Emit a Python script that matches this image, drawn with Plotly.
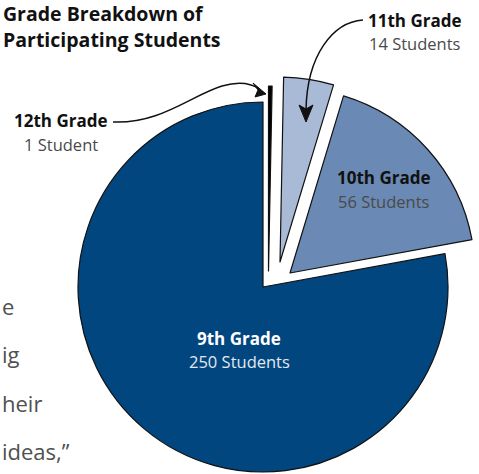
import plotly.graph_objects as go

# ---- data ----
grades = ["12th Grade", "11th Grade", "10th Grade", "9th Grade"]
students = [1, 14, 56, 250]
count_text = ["1 Student", "14 Students", "56 Students", "250 Students"]
title_lines = ["Grade Breakdown of", "Participating Students"]
body_fragments = ["e", "ig", "heir", "ideas,\u201d"]

# ---- style ----
W, H = 479, 474
FONT = "Open Sans"
slice_colors = ["#000000", "#a9bad7", "#6a89b4", "#02467f"]
R = 185
# vertex (pie centre) of each slice in pixels, from top-left
centres = [(268.5, 271), (280, 262), (290, 273), (263, 287)]


def px(x):
    return x / W


def py(y):
    return 1 - y / H


fig = go.Figure()
for i, (cx, cy) in enumerate(centres):
    colors = ["rgba(0,0,0,0)"] * len(students)
    widths = [0] * len(students)
    colors[i] = slice_colors[i]
    widths[i] = 1.2
    fig.add_trace(go.Pie(
        labels=grades,
        values=students,
        sort=False,
        direction="clockwise",
        rotation=0,
        textinfo="none",
        hoverinfo="label+value",
        showlegend=False,
        marker=dict(colors=colors, line=dict(color="#111111", width=widths)),
        domain=dict(x=[(cx - R) / W, (cx + R) / W],
                    y=[(H - cy - R) / H, (H - cy + R) / H]),
    ))

annotations = []


def add_text(text, x, y, size, color, bold=False, xanchor="center"):
    annotations.append(dict(
        text=f"<b>{text}</b>" if bold else text,
        x=px(x), y=py(y), xref="paper", yref="paper",
        xanchor=xanchor, yanchor="middle", showarrow=False,
        font=dict(family=FONT, size=size, color=color),
    ))


# title
add_text(title_lines[0], 1, 13.5, 19.5, "#111111", bold=True, xanchor="left")
add_text(title_lines[1], 1, 39, 19.5, "#111111", bold=True, xanchor="left")

# slice labels
label_pos = {
    0: ((61, 120), (61, 144)),
    1: ((415, 20), (415, 43)),
    2: ((384, 177), (384, 201)),
    3: ((239, 338), (239, 361)),
}
for i in range(len(grades)):
    (gx, gy), (sx, sy) = label_pos[i]
    if i == 3:
        c1, c2 = "#ffffff", "#e3e9f1"
    else:
        c1, c2 = "#111111", "#4a4a4a"
    add_text(grades[i], gx, gy, 17, c1, bold=True)
    add_text(count_text[i], sx, sy, 16.5, c2)

# cropped body text on the left
for frag, y in zip(body_fragments, [306, 354, 403, 451]):
    add_text(frag, 0, y, 22, "#505050", xanchor="left")


def path(points_cmd):
    out = []
    for cmd in points_cmd:
        if isinstance(cmd, str):
            out.append(cmd)
        else:
            out.append(f"{px(cmd[0]):.5f},{py(cmd[1]):.5f}")
    return " ".join(out)


shapes = [
    # 12th grade callout curve
    dict(type="path", xref="paper", yref="paper",
         path=path(["M", (113, 122), "C", (160, 124), (190, 96), (222, 86),
                    "C", (240, 81), (252, 84), (259, 89)]),
         line=dict(color="#111111", width=1.5)),
    dict(type="path", xref="paper", yref="paper",
         path=path(["M", (266, 94), "L", (253, 83), "L", (258, 90), "L", (255, 97), "Z"]),
         fillcolor="#111111", line=dict(color="#111111", width=1)),
    # 11th grade callout curve
    dict(type="path", xref="paper", yref="paper",
         path=path(["M", (363, 20), "C", (333, 22), (307, 55), (306, 110)]),
         line=dict(color="#111111", width=1.5)),
    dict(type="path", xref="paper", yref="paper",
         path=path(["M", (306, 122), "L", (299, 105), "L", (306, 109), "L", (313, 105), "Z"]),
         fillcolor="#111111", line=dict(color="#111111", width=1)),
]

fig.update_layout(
    width=W, height=H,
    margin=dict(l=0, r=0, t=0, b=0),
    paper_bgcolor="white", plot_bgcolor="white",
    annotations=annotations,
    shapes=shapes,
    showlegend=False,
    font=dict(family=FONT),
)

fig.write_html(
    "out.html",
    config={"displayModeBar": False},
    post_script="document.body.style.margin='0';document.body.style.overflow='hidden';",
)
